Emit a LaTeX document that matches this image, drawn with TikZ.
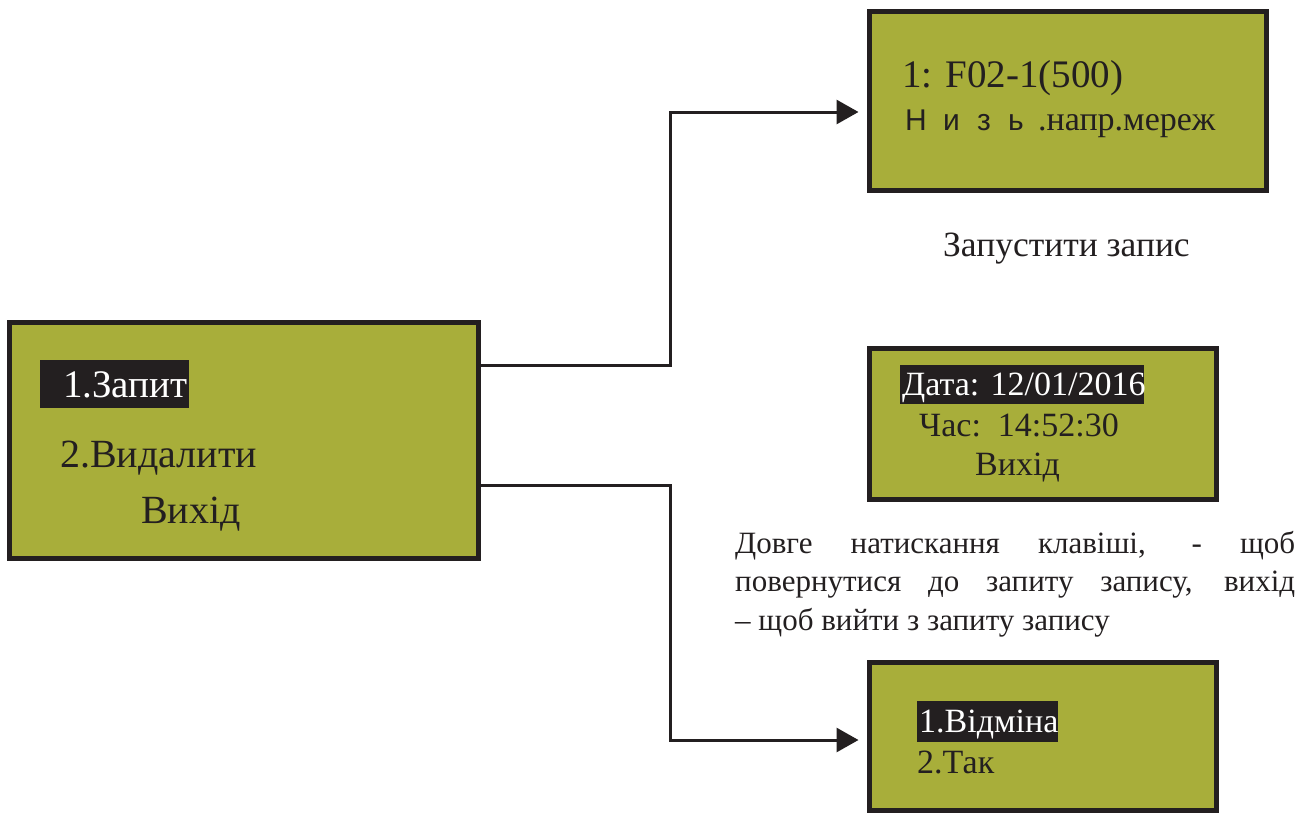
\documentclass[tikz,border=0pt]{standalone}
\usepackage{fontspec}
\setmainfont{Liberation Serif}
\newfontfamily\sansf{Liberation Sans}
\usetikzlibrary{arrows.meta}
\definecolor{lcd}{RGB}{168,174,58}
\definecolor{ink}{RGB}{35,31,32}
\tikzset{
  lcdbox/.style={draw=ink, fill=lcd, line width=5pt, inner sep=0pt},
  hl/.style={fill=ink, inner sep=0pt},
  txt/.style={anchor=base west, inner sep=0pt, text=ink},
  wtxt/.style={anchor=base west, inner sep=0pt, text=white},
  conn/.style={draw=ink, line width=3pt, -{Triangle[length=22pt,width=24pt]}, shorten >=8.5pt},
}
\begin{document}
\begin{tikzpicture}[x=1pt,y=-1pt]
\useasboundingbox (0,0) rectangle (1298,814);
% boxes
\node[lcdbox, minimum width=469pt, minimum height=236pt] (A) at (244,440.5) {};
\node[lcdbox, minimum width=397pt, minimum height=179pt] (B) at (1068,101) {};
\node[lcdbox, minimum width=347pt, minimum height=151pt] (C) at (1043,424) {};
\node[lcdbox, minimum width=347pt, minimum height=148pt] (D) at (1043,736.5) {};
% box A
\node[hl, minimum width=149pt, minimum height=48pt] (hA) at (114.5,384) {};
\node[wtxt, font=\fontsize{39}{41}\selectfont] (a1) at (63,397) {1.Запит};
\node[txt, font=\fontsize{40}{42}\selectfont] (a2) at (60,467) {2.Видалити};
\node[txt, font=\fontsize{40}{42}\selectfont] (a3) at (141,523) {Вихід};
% box B
\node[txt, font=\fontsize{39}{41}\selectfont] (b1) at (902,87) {1: F02-1(500)};
\node[txt, font=\sansf\fontsize{30}{32}\selectfont] (b2) at (905,130) {Н};
\node[txt, font=\sansf\fontsize{30}{32}\selectfont] (b3) at (943,130) {и};
\node[txt, font=\sansf\fontsize{30}{32}\selectfont] (b4) at (977,130) {з};
\node[txt, font=\sansf\fontsize{30}{32}\selectfont] (b5) at (1008,130) {ь};
\node[txt, font=\fontsize{34}{36}\selectfont] (b6) at (1038,130) {.напр.мереж};
\node[txt, font=\fontsize{35.5}{37}\selectfont] (lab1) at (943,256) {Запустити запис};
% box C
\node[hl, minimum width=244pt, minimum height=39pt] (hC) at (1022,384.5) {};
\node[wtxt, font=\fontsize{34}{36}\selectfont] (c1) at (902,395) {Дата: 12/01/2016};
\node[txt, font=\fontsize{34}{36}\selectfont] (c2) at (919,436) {Час:\ \ 14:52:30};
\node[txt, font=\fontsize{34}{36}\selectfont] (c3) at (975,475) {Вихід};
% paragraph
\node[txt, text width=560pt, align=justify, font=\fontsize{31}{38.5}\selectfont] (par) at (735,553)
  {Довге натискання клавіші, - щоб\linebreak повернутися до запиту запису, вихід\linebreak – щоб вийти з запиту запису};
% box D
\node[hl, minimum width=141pt, minimum height=41pt] (hD) at (987.5,721.5) {};
\node[wtxt, font=\fontsize{34}{36}\selectfont] (d1) at (919,732) {1.Відміна};
\node[txt, font=\fontsize{34}{36}\selectfont] (d2) at (917,773) {2.Так};
% connectors
\coordinate (k1) at (670,365);
\coordinate (k2) at (670,485);
\draw[conn] (A.east |- k1) -- (k1) |- (B.west |- 0,112);
\draw[conn] (A.east |- k2) -- (k2) |- (D.west |- 0,740);
\end{tikzpicture}
\end{document}
